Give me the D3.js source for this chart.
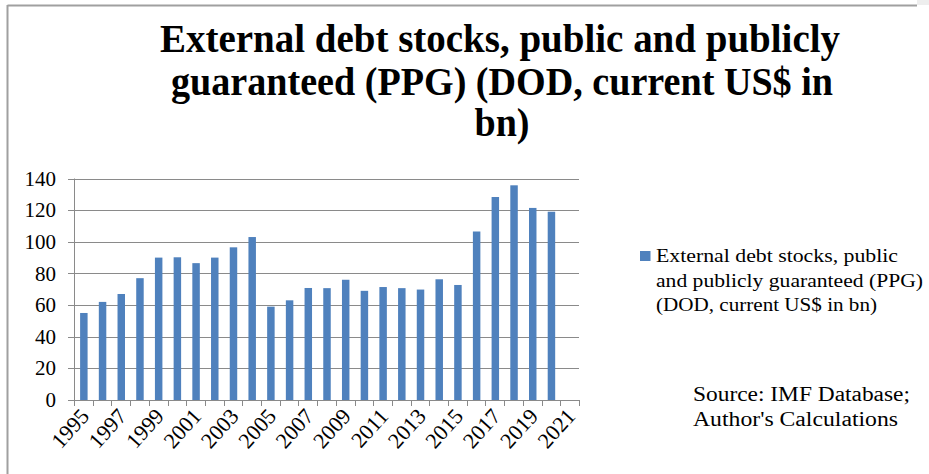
<!DOCTYPE html>
<html>
<head>
<meta charset="utf-8">
<script src="https://cdn.jsdelivr.net/npm/d3@7"></script>
<style>
  html, body { margin: 0; padding: 0; background: #fff; }
  svg { display: block; }
  text { font-family: "Liberation Serif", "DejaVu Serif", serif; fill: #000; }
</style>
</head>
<body>
<svg id="chart" width="929" height="474"></svg>
<script>
const years = ["1995","1996","1997","1998","1999","2000","2001","2002","2003","2004","2005","2006","2007","2008","2009","2010","2011","2012","2013","2014","2015","2016","2017","2018","2019","2020","2021"];
const values = [55, 62, 67, 77, 90, 90.2, 86.5, 90, 96.5, 103, 59, 63, 70.8, 70.7, 76, 69, 71.4, 70.7, 69.8, 76.3, 72.7, 106.5, 128.3, 135.7, 121.4, 119, null];
const yTicks = [0, 20, 40, 60, 80, 100, 120, 140];
const xLabelYears = ["1995","1997","1999","2001","2003","2005","2007","2009","2011","2013","2015","2017","2019","2021"];
const titleLines = ["External debt stocks, public and publicly", "guaranteed (PPG) (DOD, current US$ in", "bn)"];
const legendLines = ["External debt stocks, public", "and publicly guaranteed (PPG)", "(DOD, current US$ in bn)"];
const sourceLines = ["Source: IMF Database;", "Author's Calculations"];

const svg = d3.select("#chart");

// frame
svg.append("rect").attr("x", 917).attr("y", 0).attr("width", 12).attr("height", 5).attr("fill", "#eeeeee");
svg.append("line").attr("x1", 7.5).attr("x2", 917).attr("y1", 5.5).attr("y2", 5.5).attr("stroke", "#a0a0a0").attr("stroke-width", 2);
svg.append("line").attr("x1", 7.5).attr("x2", 7.5).attr("y1", 5).attr("y2", 474).attr("stroke", "#a0a0a0").attr("stroke-width", 2);

// title
const titleSpec = [{cx: 500, y: 52, w: 680}, {cx: 502, y: 95, w: 662}, {cx: 502, y: 136, w: 55}];
titleLines.forEach((t, i) => {
  svg.append("text")
    .attr("x", titleSpec[i].cx).attr("y", titleSpec[i].y)
    .attr("text-anchor", "middle")
    .style("font-size", "39px").style("font-weight", "bold")
    .attr("textLength", titleSpec[i].w).attr("lengthAdjust", "spacingAndGlyphs")
    .text(t);
});

const pLeft = 74, pRight = 579, pTop = 178.5, pBottom = 400;
const x = d3.scaleBand().domain(years).range([pLeft, pRight]).padding(0);
const y = d3.scaleLinear().domain([0, 140]).range([pBottom, pTop]);

// gridlines
svg.append("g").selectAll("line").data(yTicks.filter(d => d > 0)).join("line")
  .attr("x1", pLeft).attr("x2", pRight)
  .attr("y1", d => Math.round(y(d)) + 0.5).attr("y2", d => Math.round(y(d)) + 0.5)
  .attr("stroke", "#8a8a8a").attr("stroke-width", 1);

// bars
const bw = x.bandwidth() * 0.4;
svg.append("g").selectAll("rect").data(years.map((yr, i) => ({yr, v: values[i]})).filter(d => d.v != null)).join("rect")
  .attr("x", d => x(d.yr) + x.bandwidth() / 2 - bw / 2 + 0.5)
  .attr("width", bw)
  .attr("y", d => y(d.v))
  .attr("height", d => pBottom - y(d.v))
  .attr("fill", "#4f81bd");

// y axis line and ticks
svg.append("line").attr("x1", pLeft + 0.5).attr("x2", pLeft + 0.5).attr("y1", pTop).attr("y2", pBottom).attr("stroke", "#8a8a8a");
svg.append("g").selectAll("line").data(yTicks).join("line")
  .attr("x1", pLeft - 6).attr("x2", pLeft)
  .attr("y1", d => Math.round(y(d)) + 0.5).attr("y2", d => Math.round(y(d)) + 0.5)
  .attr("stroke", "#8a8a8a");
svg.append("g").selectAll("text").data(yTicks).join("text")
  .attr("x", 56).attr("y", d => y(d)).attr("dy", "0.34em")
  .attr("text-anchor", "end")
  .style("font-size", "21px")
  .text(d => d3.format("d")(d));

// x axis: baseline + ticks at band edges
svg.append("line").attr("x1", pLeft).attr("x2", pRight).attr("y1", pBottom + 0.5).attr("y2", pBottom + 0.5).attr("stroke", "#8a8a8a");
const edges = years.map(yr => x(yr)).concat([pRight]);
svg.append("g").selectAll("line").data(edges).join("line")
  .attr("x1", d => Math.round(d) + 0.5).attr("x2", d => Math.round(d) + 0.5)
  .attr("y1", pBottom).attr("y2", pBottom + 6)
  .attr("stroke", "#8a8a8a");

svg.append("g").selectAll("text").data(xLabelYears).join("text")
  .attr("text-anchor", "end")
  .style("font-size", "22px")
  .attr("transform", d => `translate(${x(d) + x.bandwidth() / 2 + 7},${pBottom + 17}) rotate(-48)`)
  .text(d => d);

// legend
svg.append("rect").attr("x", 640).attr("y", 251).attr("width", 10.5).attr("height", 10).attr("fill", "#4f81bd");
const legW = [242, 267, 221];
legendLines.forEach((t, i) => {
  svg.append("text").attr("x", 656).attr("y", 262 + i * 24.5)
    .style("font-size", "19px")
    .attr("textLength", legW[i]).attr("lengthAdjust", "spacingAndGlyphs")
    .text(t);
});

// source
const srcW = [217, 205];
sourceLines.forEach((t, i) => {
  svg.append("text").attr("x", 693).attr("y", 401 + i * 24.5)
    .style("font-size", "20px")
    .attr("textLength", srcW[i]).attr("lengthAdjust", "spacingAndGlyphs")
    .text(t);
});
</script>
</body>
</html>
